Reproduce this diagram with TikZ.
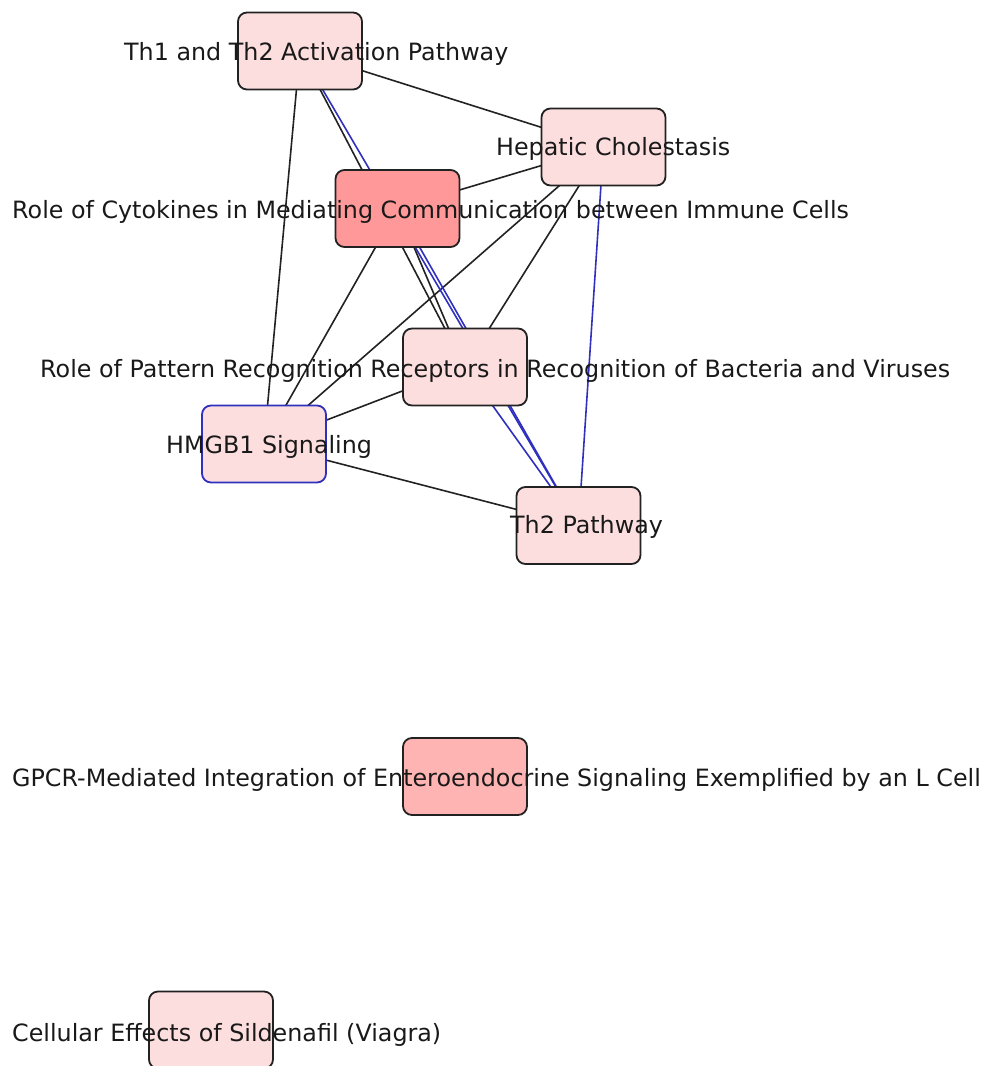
\documentclass[tikz,border=0pt]{standalone}
\usepackage{fontspec}
\setmainfont{DejaVu Sans}
\pgfdeclarelayer{edges}
\pgfsetlayers{edges,main}
\definecolor{palepink}{RGB}{253,222,222}
\definecolor{midred}{RGB}{255,153,153}
\definecolor{lightred}{RGB}{255,180,180}
\definecolor{edgeblue}{RGB}{48,48,190}
\definecolor{bordercol}{RGB}{34,34,34}
\tikzset{
  pathbox/.style={draw=bordercol, line width=1.8pt, rounded corners=9pt,
    minimum width=124pt, minimum height=77pt, inner sep=0pt, fill=palepink},
  lbl/.style={anchor=base west, inner sep=0pt, font=\fontsize{23.8}{28}\selectfont, text=black!90},
  plainlink/.style={draw=bordercol, line width=1.6pt},
  bluelink/.style={draw=edgeblue, line width=1.6pt}
}
\begin{document}
\begin{tikzpicture}[x=1pt,y=-1pt]
\useasboundingbox (0,0) rectangle (995,1066);
% boxes
\node[pathbox] (th1) at (300,51) {};
\node[pathbox] (hep) at (603.5,147) {};
\node[pathbox, fill=midred] (cyto) at (397.5,208.5) {};
\node[pathbox] (prr) at (465,367) {};
\node[pathbox, draw=edgeblue] (hmgb) at (264,444) {};
\node[pathbox] (th2) at (578.5,525.5) {};
\node[pathbox, fill=lightred] (gpcr) at (465,776.5) {};
\node[pathbox] (sild) at (211,1030) {};
% labels
\node[lbl] (th1l) at (124,60) {Th1 and Th2 Activation Pathway};
\node[lbl] (hepl) at (496,155) {Hepatic Cholestasis};
\node[lbl] (cytol) at (12,218) {Role of Cytokines in Mediating Communication between Immune Cells};
\node[lbl] (prrl) at (40,377) {Role of Pattern Recognition Receptors in Recognition of Bacteria and Viruses};
\node[lbl] (hmgbl) at (166,453) {HMGB1 Signaling};
\node[lbl] (th2l) at (510,533) {Th2 Pathway};
\node[lbl] (gpcrl) at (12,786) {GPCR-Mediated Integration of Enteroendocrine Signaling Exemplified by an L Cell};
\node[lbl] (sildl) at (12,1041) {Cellular Effects of Sildenafil (Viagra)};
% edges
\begin{pgfonlayer}{edges}
\draw[plainlink] (th1.center) -- (hep.center);
\draw[plainlink] (th1.center) -- (hmgb.center);
\draw[plainlink] (th1.center) -- (prr.center);
\draw[plainlink] (hep.center) -- (cyto.center);
\draw[plainlink] (hep.center) -- (hmgb.center);
\draw[plainlink] (hep.center) -- (prr.center);
\draw[plainlink] (cyto.center) -- (hmgb.center);
\draw[plainlink] (cyto.center) -- (prr.center);
\draw[plainlink] (prr.center) -- (hmgb.center);
\draw[plainlink] (hmgb.center) -- (th2.center);
\draw[bluelink] (th1.center) -- (th2.center);
\draw[bluelink] (cyto.center) -- (th2.center);
\draw[bluelink] (prr.center) -- (th2.center);
\draw[bluelink] (hep.center) -- (th2.center);
\end{pgfonlayer}
\end{tikzpicture}
\end{document}
